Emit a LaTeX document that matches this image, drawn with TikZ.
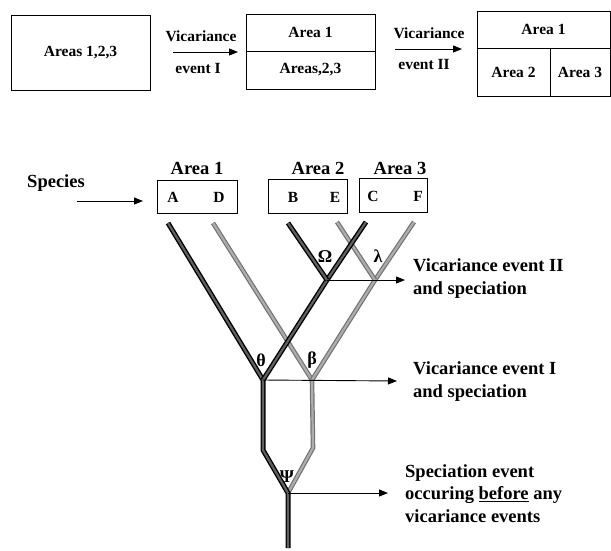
\documentclass[tikz,border=0pt]{standalone}
\usepackage{fontspec}
\setmainfont{Liberation Serif}
\usetikzlibrary{arrows.meta}
\tikzset{
  box/.style={draw, line width=0.9pt, inner sep=0pt},
  small/.style={font=\fontsize{15.5}{18}\selectfont\bfseries},
  big/.style={font=\fontsize{18.5}{22.5}\selectfont\bfseries},
  greek/.style={font=\fontsize{18}{20}\selectfont\bfseries},
  lab/.style={big, align=left, anchor=base west, inner sep=0pt},
  arr/.style={-{Triangle[length=9pt,width=7pt]}, line width=0.9pt},
  dark/.style={line width=1.4pt, draw=black, double=black!62, double distance=2.2pt},
  light/.style={line width=1.2pt, draw=black!55, double=black!32, double distance=2.2pt},
}
\begin{document}
\begin{tikzpicture}[x=1pt,y=-1pt]
\useasboundingbox (0,0) rectangle (611,550);
% ---- top row ----
\node[box, small, minimum width=139pt, minimum height=75pt] (b1) at (80.5,52.5) {Areas 1,2,3};
\coordinate (a1s) at (173,52);
\coordinate (a1e) at (238,52);
\draw[arr] (a1s) -- (a1e);
\node[small] (v1) at (201,36) {Vicariance};
\node[small] (e1) at (198,68) {event I};
\node[box, small, minimum width=129pt, minimum height=37pt] (b2t) at (310.5,32.5) {Area 1};
\node[box, small, minimum width=129pt, minimum height=38pt] (b2b) at (310.5,70) {Areas,2,3};
\coordinate (a2s) at (395,49);
\coordinate (a2e) at (462,49);
\draw[arr] (a2s) -- (a2e);
\node[small] (v2) at (429,33) {Vicariance};
\node[small] (e2) at (424,64) {event II};
\node[box, small, minimum width=133pt, minimum height=37pt] (b3t) at (543.5,29.5) {Area 1};
\node[box, small, minimum width=73pt, minimum height=48pt] (b3l) at (513.5,72) {Area 2};
\node[box, small, minimum width=60pt, minimum height=48pt] (b3r) at (580,72) {Area 3};
% ---- species boxes ----
\node[big] (sp) at (56,183) {Species};
\coordinate (sps) at (77,201);
\coordinate (spe) at (143,201);
\draw[arr] (sps) -- (spe);
\node[big] (ar1) at (197,168) {Area 1};
\node[big] (ar2) at (318,168) {Area 2};
\node[big] (ar3) at (400,168) {Area 3};
\node[box, minimum width=80pt, minimum height=33pt] (bx1) at (197,196.5) {};
\node[box, minimum width=79pt, minimum height=34pt] (bx2) at (307.5,196) {};
\node[box, minimum width=68pt, minimum height=34pt] (bx3) at (393,195) {};
\node[small] (lA) at (173,197) {A};
\node[small] (lD) at (219,197) {D};
\node[small] (lB) at (293,197) {B};
\node[small] (lE) at (335,197) {E};
\node[small] (lC) at (373,196) {C};
\node[small] (lF) at (418,196) {F};
% ---- tree ----
\coordinate (tA) at (168,223);
\coordinate (tD) at (213,223);
\coordinate (tB) at (288,223);
\coordinate (tE) at (337,222);
\coordinate (tC) at (366,222);
\coordinate (tF) at (414,222);
\coordinate (Om) at (327,280);
\coordinate (La) at (375,280);
\coordinate (Th) at (263,380);
\coordinate (Be) at (312,380);
\coordinate (Dk) at (263,450);
\coordinate (Lk) at (313,448);
\coordinate (Psi) at (288,493);
\coordinate (Root) at (288,548);
\draw[light] (tD) -- (Be) -- (Lk) -- (Psi);
\draw[light] (tF) -- (La) -- (Be);
\draw[light] (tE) -- (La);
\draw[dark] (tA) -- (Th) -- (Dk) -- (Psi) -- (Root);
\draw[dark] (tC) -- (Om) -- (Th);
\draw[dark] (tB) -- (Om);
% greek labels
\node[greek] (gO) at (325,257) {Ω};
\node[greek] (gL) at (378,256) {λ};
\node[greek] (gT) at (261,360) {θ};
\node[greek] (gB) at (312,360) {β};
\node[greek] (gP) at (287,477) {Ψ};
% event arrows and labels
\node[lab] (t2) at (413,294) {Vicariance event II\\and speciation};
\node[lab] (t1) at (413,397) {Vicariance event I\\and speciation};
\node[lab] (t0) at (405,522) {Speciation event\\occuring \underline{before} any\\vicariance events};
\coordinate (x2) at (405,280);
\coordinate (x1) at (397,381);
\coordinate (x0) at (388,493);
\draw[arr] (Om) -- (x2);
\draw[arr] (Th) -- (x1);
\draw[arr] (Psi) -- (x0);
\end{tikzpicture}
\end{document}
